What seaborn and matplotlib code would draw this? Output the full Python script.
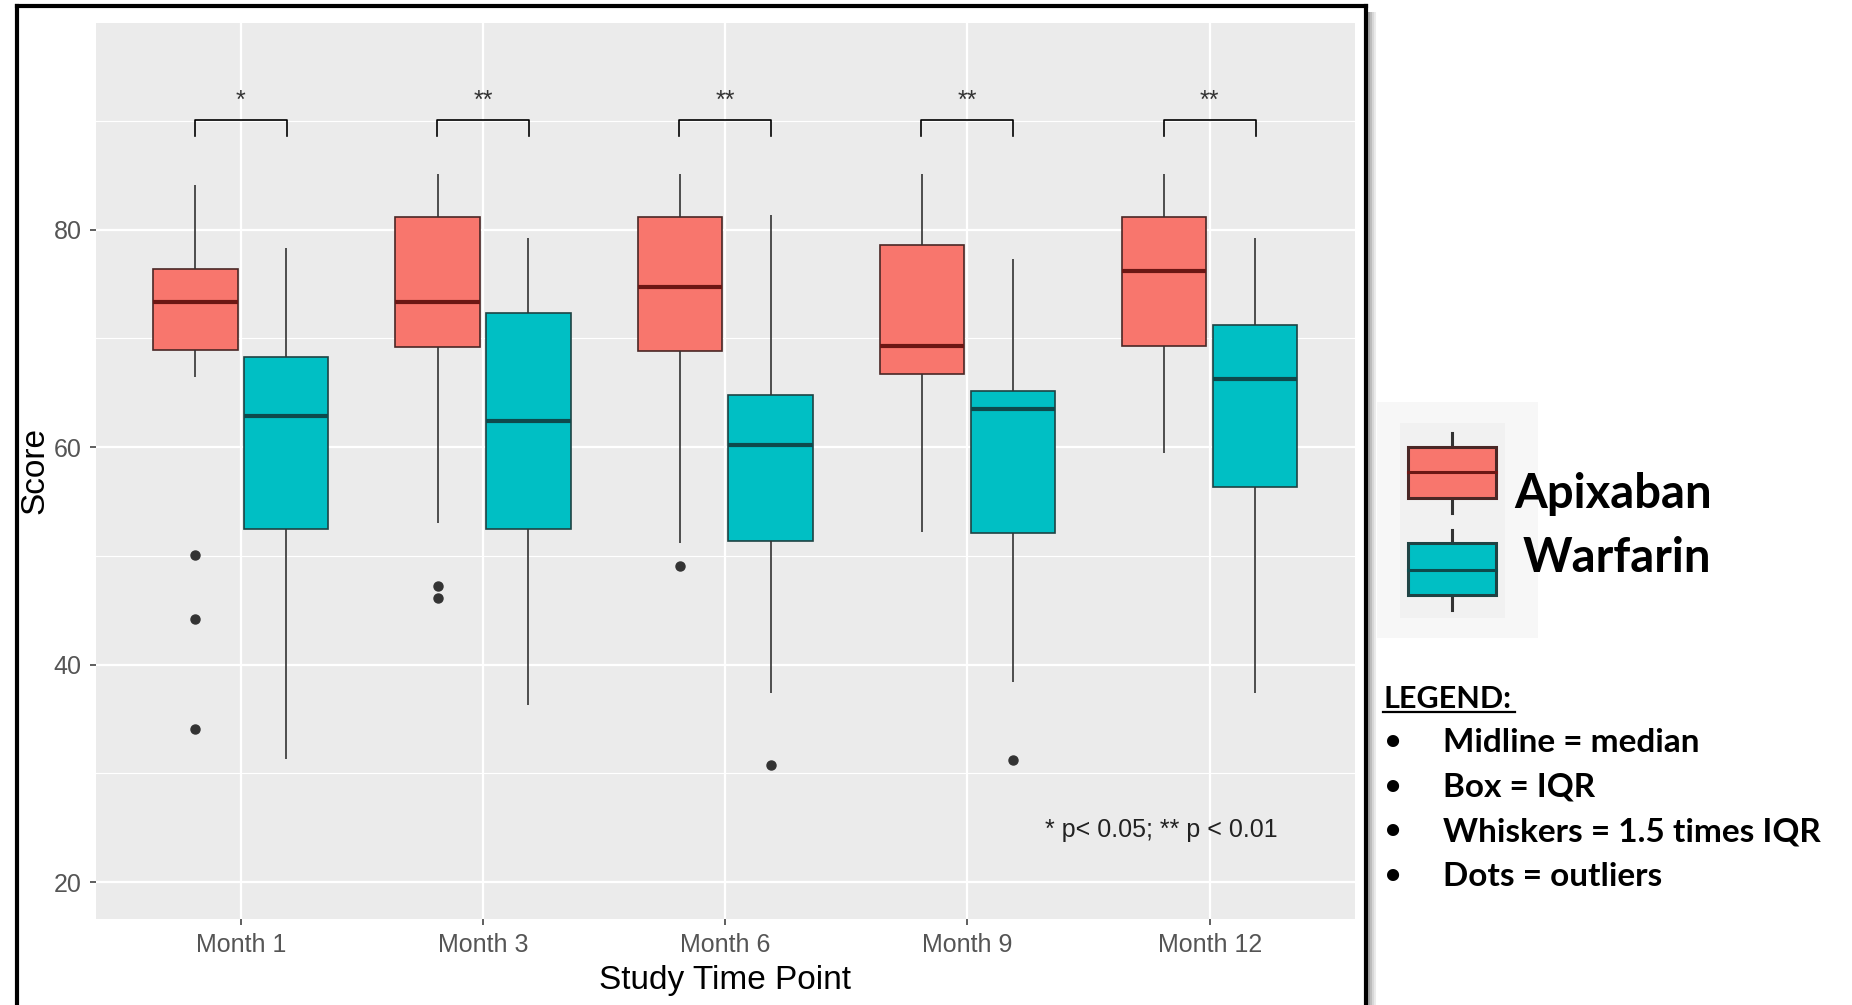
import numpy as np
import pandas as pd
import matplotlib
matplotlib.use("Agg")
import matplotlib.pyplot as plt
from matplotlib.patches import Rectangle
import seaborn as sns

months = ["Month 1", "Month 3", "Month 6", "Month 9", "Month 12"]
drugs = ["Apixaban", "Warfarin"]

# five number summaries
apix_lo = [66.4, 53.0, 51.2, 52.2, 59.5]
apix_q1 = [68.9, 69.2, 68.8, 66.7, 69.3]
apix_med = [73.3, 73.3, 74.7, 69.3, 76.2]
apix_q3 = [76.4, 81.2, 81.2, 78.6, 81.2]
apix_hi = [84.1, 85.1, 85.1, 85.1, 85.1]
apix_out = [[50.1, 44.2, 34.1], [47.2, 46.1], [49.1], [], []]

warf_lo = [31.3, 36.3, 37.4, 38.4, 37.4]
warf_q1 = [52.5, 52.5, 51.4, 52.1, 56.3]
warf_med = [62.9, 62.4, 60.2, 63.5, 66.3]
warf_q3 = [68.3, 72.3, 64.8, 65.2, 71.2]
warf_hi = [78.3, 79.2, 81.3, 77.3, 79.2]
warf_out = [[], [], [30.8], [31.2], []]

sig = ["*", "**", "**", "**", "**"]
note = "* p< 0.05; ** p < 0.01"
legend_items = ["Midline = median", "Box = IQR", "Whiskers = 1.5 times IQR", "Dots = outliers"]

palette = {"Apixaban": "#F8766D", "Warfarin": "#00BFC4"}
edge_col = {"Apixaban": "#4A2725", "Warfarin": "#1E4344"}
med_col = {"Apixaban": "#6B1714", "Warfarin": "#0E4A4C"}

# long table: each summary value repeated so the quartiles land on it
rows = []
summ = {"Apixaban": (apix_lo, apix_q1, apix_med, apix_q3, apix_hi, apix_out),
        "Warfarin": (warf_lo, warf_q1, warf_med, warf_q3, warf_hi, warf_out)}
for drug in drugs:
    lo, q1, med, q3, hi, out = summ[drug]
    for i, m in enumerate(months):
        vals = [lo[i]] + [q1[i]] * 10 + [med[i]] * 10 + [q3[i]] * 10 + [hi[i]] + out[i]
        for v in vals:
            rows.append({"month": m, "drug": drug, "score": v})
df = pd.DataFrame(rows)

W, H = 1852, 1005
fig = plt.figure(figsize=(W / 100, H / 100), dpi=100)
fig.patch.set_facecolor("white")

# overlay in pixel coords for frame and side legend
ov = fig.add_axes([0, 0, 1, 1])
ov.set_xlim(0, W)
ov.set_ylim(H, 0)
ov.axis("off")

ax = fig.add_axes([95.5 / W, 1 - 919 / H, (1355 - 95.5) / W, (919 - 23) / H])
ax.set_facecolor("#EBEBEB")

sns.boxplot(data=df, x="month", y="score", hue="drug", order=months, hue_order=drugs,
            palette=palette, width=0.75, gap=0.07, linecolor="#333333", linewidth=1.2,
            showcaps=False, saturation=1, legend=False, ax=ax,
            medianprops=dict(linewidth=3),
            flierprops=dict(marker="o", markerfacecolor="#333333", markeredgecolor="#333333",
                            markersize=6.5))

for p in ax.patches:
    fc = matplotlib.colors.to_hex(p.get_facecolor())
    d = "Apixaban" if fc.lower() == palette["Apixaban"].lower() else "Warfarin"
    p.set_edgecolor(edge_col[d])
    p.set_zorder(2)

for ln in ax.lines:
    x = np.asarray(ln.get_xdata(), dtype=float)
    y = np.asarray(ln.get_ydata(), dtype=float)
    if len(x) == 2 and y[0] == y[1] and x[0] != x[1]:
        c = np.mean(x)
        d = "Apixaban" if c < np.round(c) else "Warfarin"
        ln.set_color(med_col[d])
        ln.set_zorder(3)

ax.set_xlim(-0.6, 4.6)
ax.set_ylim(16.6, 99.0)
ax.set_yticks([20, 40, 60, 80])
ax.set_yticks([30, 50, 70, 90], minor=True)
ax.set_axisbelow(True)
ax.grid(which="major", axis="both", color="white", linewidth=1.6)
ax.grid(which="minor", axis="y", color="white", linewidth=0.8)
ax.tick_params(axis="x", which="minor", bottom=False)
for s in ax.spines.values():
    s.set_visible(False)
ax.tick_params(which="major", length=4, width=1.1, color="#333333", labelcolor="#555555",
               labelsize=18, pad=6)
ax.tick_params(axis="y", which="minor", length=0)
for t in ax.get_xticklabels() + ax.get_yticklabels():
    t.set_family("Liberation Sans")
ax.set_xlabel("Study Time Point", fontsize=24, family="Liberation Sans", color="black", labelpad=6)
ax.set_ylabel("Score", fontsize=24, family="Liberation Sans", color="black", labelpad=2)

# significance brackets
for i, s in enumerate(sig):
    ax.plot([i - 0.19, i - 0.19, i + 0.19, i + 0.19], [88.6, 90.1, 90.1, 88.6],
            color="black", lw=1.2, zorder=3)
    ax.text(i, 91.8, s, ha="center", va="center", fontsize=18, color="#333333",
            family="Liberation Sans")
ax.text(3.80, 24.8, note, ha="center", va="center", fontsize=18, color="#222222",
        family="Liberation Sans")

# outer frame with shadow
for k, a in enumerate([0.35, 0.25, 0.15, 0.08]):
    ov.plot([1369 + 2 * k, 1369 + 2 * k], [12, H], color="black", alpha=a, lw=1.5,
            solid_capstyle="butt")
ov.plot([17, 17], [H, 6], color="black", lw=3, solid_capstyle="projecting")
ov.plot([17, 1366], [6, 6], color="black", lw=3, solid_capstyle="projecting")
ov.plot([1366, 1366], [6, H], color="black", lw=3, solid_capstyle="projecting")

# side legend glyphs
ov.add_patch(Rectangle((1377, 402), 161, 236, facecolor="#F7F7F7", edgecolor="none"))
ov.add_patch(Rectangle((1400, 423), 105, 195, facecolor="#F1F1F1", edgecolor="none"))
for d, (top, bot, med, wt, wb) in zip(drugs, [(447, 498, 472, 433, 513), (543, 595, 570, 530, 610)]):
    ov.plot([1452, 1452], [wt, wb], color="#333333", lw=2.2)
    ov.add_patch(Rectangle((1408, top), 88, bot - top, facecolor=palette[d],
                           edgecolor=edge_col[d], lw=2.2, zorder=3))
    ov.plot([1408, 1496], [med, med], color=med_col[d], lw=2.2, zorder=4)

ov.text(1514, 508, "Apixaban", fontsize=34, fontweight="bold", family="Lato", va="baseline")
ov.text(1523, 572, "Warfarin", fontsize=34, fontweight="bold", family="Lato", va="baseline")

ov.text(1383, 708, "LEGEND:", fontsize=22, fontweight="bold", family="Lato", va="baseline")
ov.plot([1383, 1515], [712, 712], color="black", lw=1.6)
for k, item in enumerate(legend_items):
    yb = 752 + k * 44.5
    ov.text(1385, yb - 2, "\u2022", fontsize=20, fontweight="bold", family="Lato", va="baseline")
    ov.text(1443, yb, item, fontsize=24, fontweight="bold", family="Lato", va="baseline")

fig.savefig("out.png", dpi=100)
